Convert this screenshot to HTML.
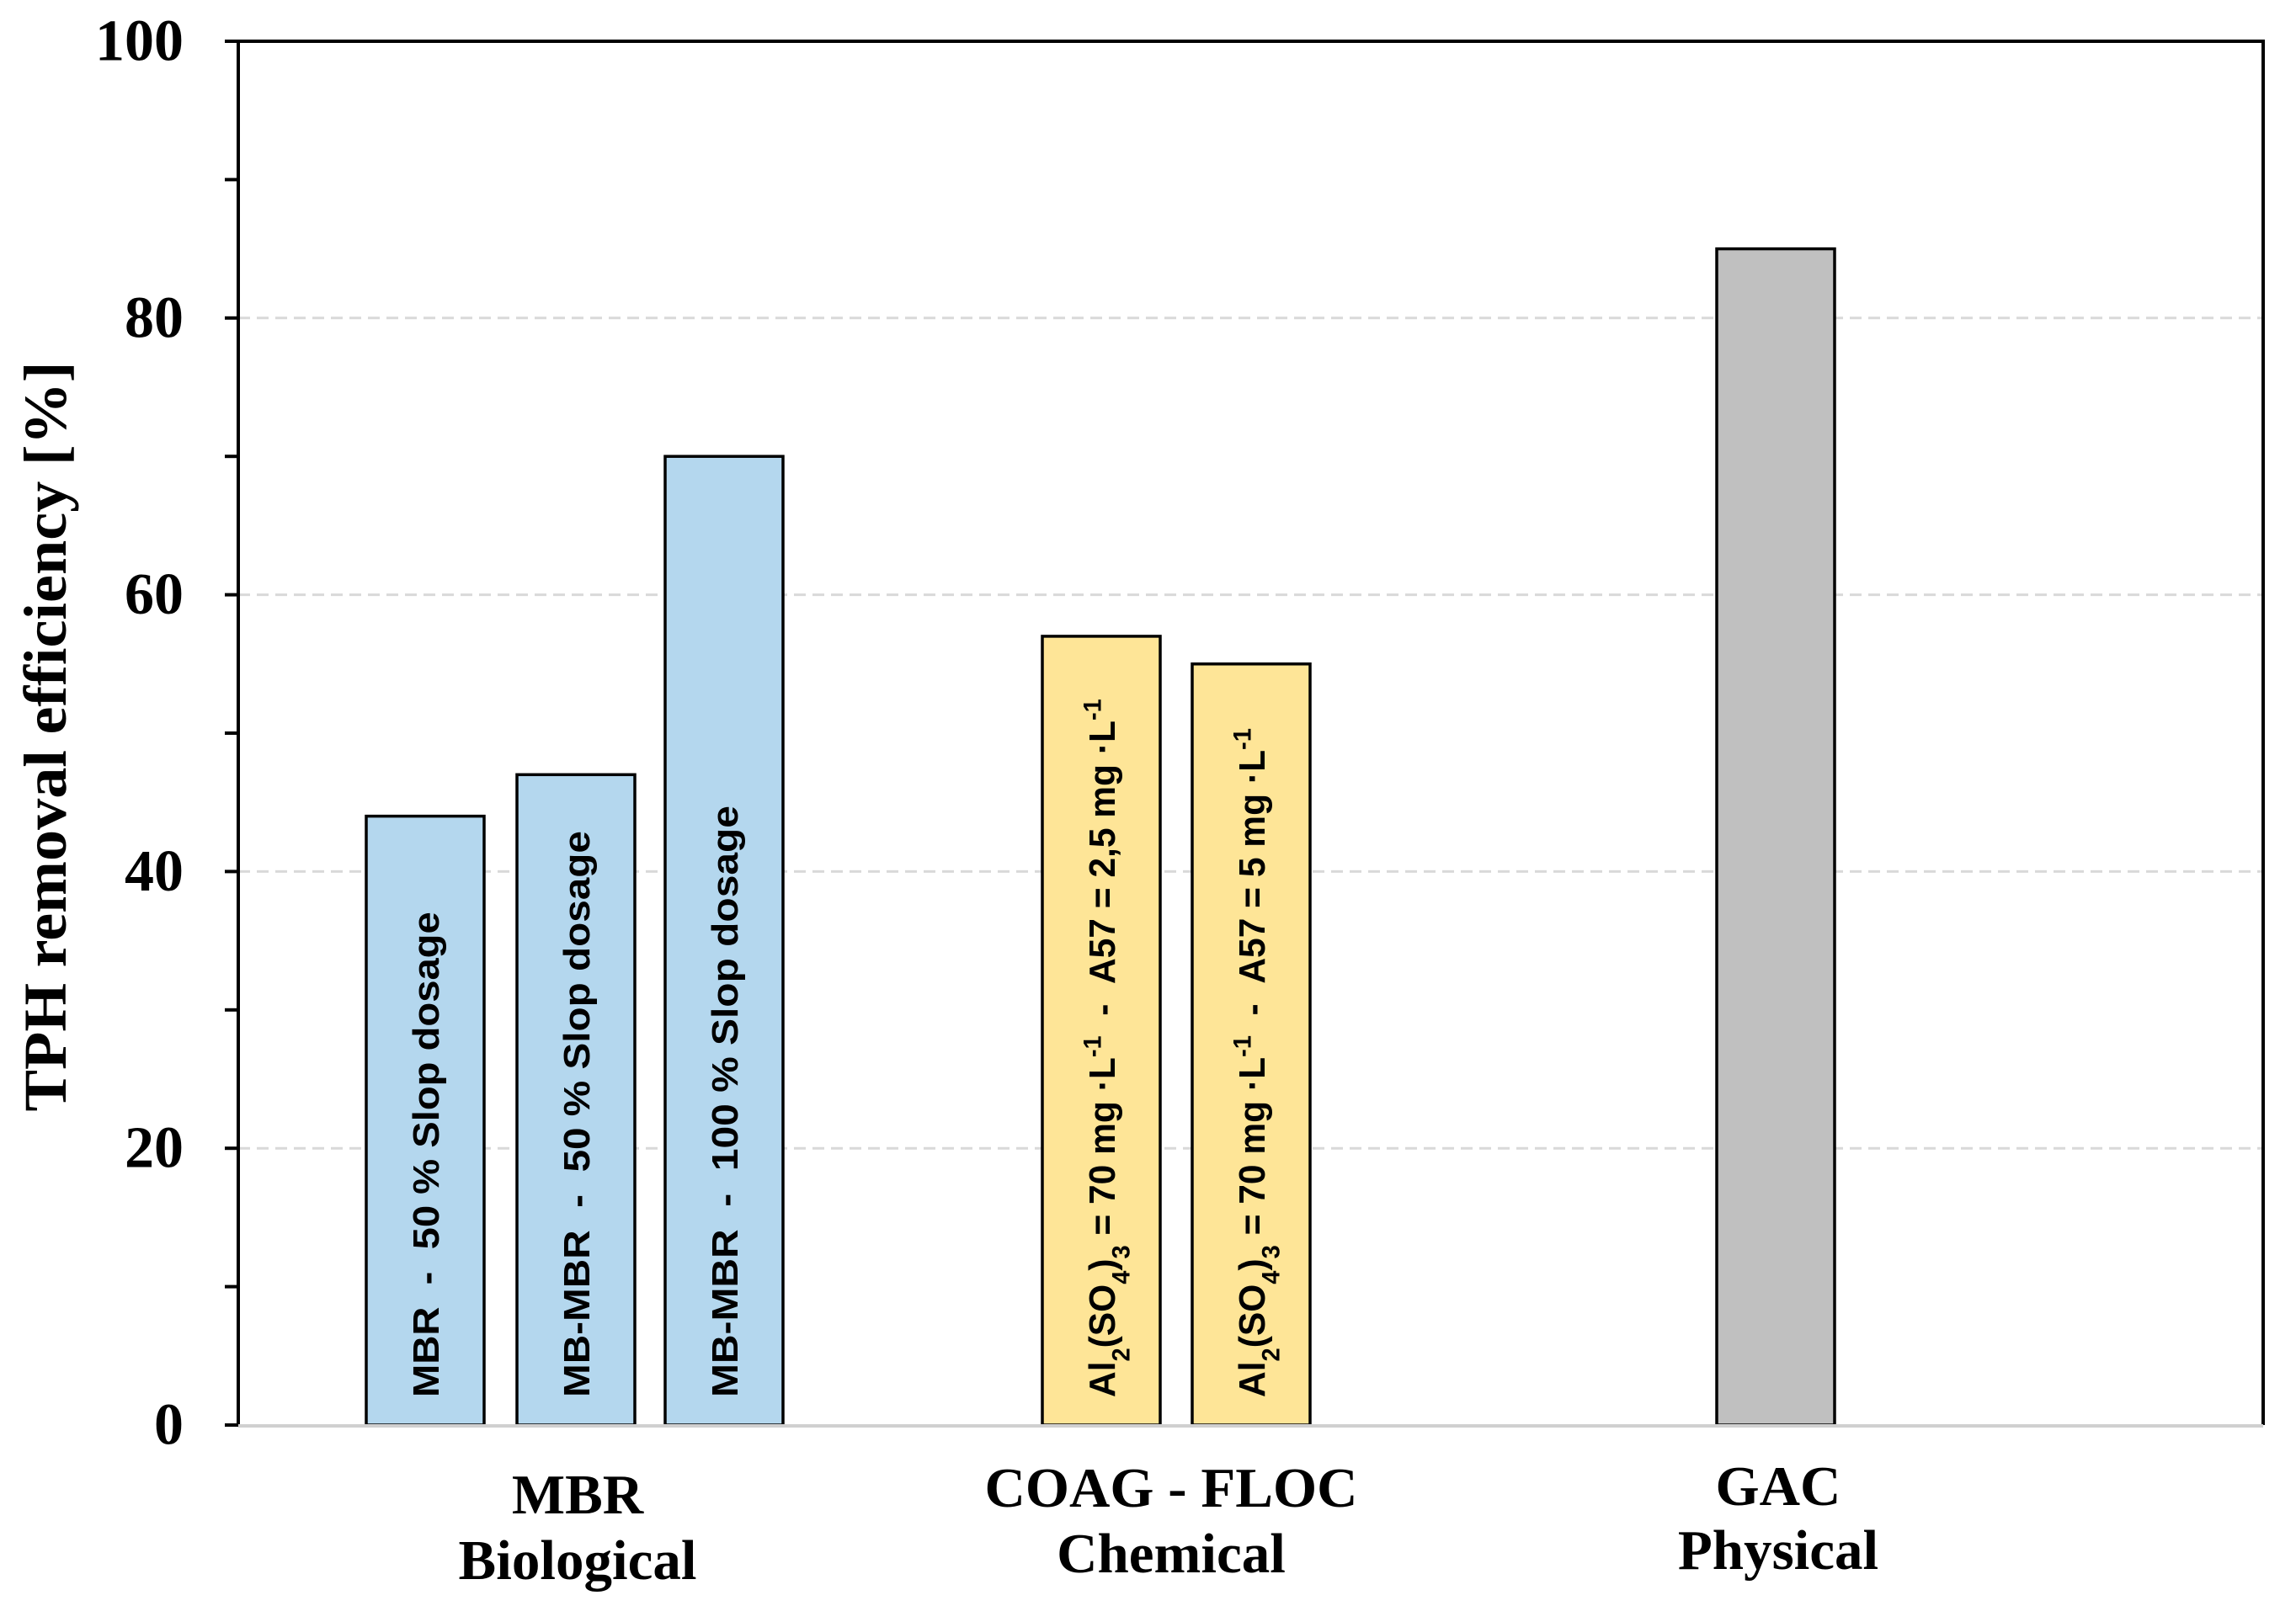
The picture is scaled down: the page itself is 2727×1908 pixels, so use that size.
<!DOCTYPE html>
<html><head><meta charset="utf-8"><style>
html,body{margin:0;padding:0;background:#fff;}
svg{display:block;}
</style></head><body>
<svg id="chart" width="2727" height="1908" viewBox="0 0 2727 1908" xmlns="http://www.w3.org/2000/svg">
<g id="grid"></g>
<g id="bars"></g>
<g id="axes"></g>
<g id="labels"></g>
</svg>
<script>
const barValues = [44, 47, 70, 57, 55, 85];
const barCenters = [505, 684, 860, 1308, 1486, 2109];
const barColors = ["#b4d7ee","#b4d7ee","#b4d7ee","#fee597","#fee597","#c0c0c0"];
const yTicks = [0, 20, 40, 60, 80, 100];
const yMinor = [10, 30, 50, 70, 90];
const groupNames = ["MBR", "COAG - FLOC", "GAC"];
const groupTypes = ["Biological", "Chemical", "Physical"];
const groupCenters = [686, 1391, 2112];

const NS = "http://www.w3.org/2000/svg";
const X0 = 283, X1 = 2688, Y0 = 1693, Y1 = 49;
function y(v){ return Y0 - (v/100)*(Y0-Y1); }
function mk(tag, attrs, parent){
  const e = document.createElementNS(NS, tag);
  for (const k in attrs) e.setAttribute(k, attrs[k]);
  parent.appendChild(e); return e;
}
const grid = document.getElementById('grid');
const barsG = document.getElementById('bars');
const axes = document.getElementById('axes');
const labels = document.getElementById('labels');

yTicks.forEach(t => {
  if (t > 0 && t < 100) {
    const l = mk('line', {x1:X0, x2:X1, y1:y(t), y2:y(t), stroke:'#d9d9d9', 'stroke-width':3, 'stroke-dasharray':'14 8'}, grid);
    
    
  }
  const tk = mk('line', {x1:267, x2:X0, y1:y(t), y2:y(t), stroke:'#000', 'stroke-width':4}, axes);
  
  
  const tl = mk('text', {x:218, y:y(t), 'text-anchor':'end', 'dominant-baseline':'central', 'font-family':'Liberation Serif, serif', 'font-weight':'bold', 'font-size':70}, labels);
  tl.textContent = t;
  
  
});
yMinor.forEach(t => {
  const tk = mk('line', {x1:267, x2:X0, y1:y(t), y2:y(t), stroke:'#000', 'stroke-width':4}, axes);
  
  
});

const bw = 140;
barValues.forEach((v, i) => {
  const r = mk('rect', {x:barCenters[i]-bw/2, y:y(v), width:bw, height:Y0-y(v), fill:barColors[i], stroke:'#000', 'stroke-width':3.5}, barsG);
  
  
});

const frame = mk('path', {d:`M${X0} ${Y0} L${X0} ${Y1} L${X1} ${Y1} L${X1} ${Y0}`, fill:'none', stroke:'#000', 'stroke-width':4}, axes);


const xaxis = mk('line', {x1:X0, x2:X1, y1:Y0+1, y2:Y0+1, stroke:'#d0d0d0', 'stroke-width':4}, axes);



const barTexts = [
  {html:'MBR&#160;&#160;-&#160;&#160;50 % Slop dosage', len:577},
  {html:'MB-MBR&#160;&#160;-&#160;&#160;50 % Slop dosage', len:673},
  {html:'MB-MBR&#160;&#160;-&#160;&#160;100 % Slop dosage', len:703},
  {html:'Al<tspan baseline-shift="sub" font-size="30">2</tspan>(SO<tspan baseline-shift="sub" font-size="30">4</tspan>)<tspan baseline-shift="sub" font-size="30">3</tspan> = 70 mg ·L<tspan baseline-shift="super" font-size="30">-1</tspan>&#160;&#160;-&#160;&#160;A57 = 2,5 mg ·L<tspan baseline-shift="super" font-size="30">-1</tspan>', len:830},
  {html:'Al<tspan baseline-shift="sub" font-size="30">2</tspan>(SO<tspan baseline-shift="sub" font-size="30">4</tspan>)<tspan baseline-shift="sub" font-size="30">3</tspan> = 70 mg ·L<tspan baseline-shift="super" font-size="30">-1</tspan>&#160;&#160;-&#160;&#160;A57 = 5 mg ·L<tspan baseline-shift="super" font-size="30">-1</tspan>', len:795}
];
barTexts.forEach((bt, i) => {
  const cx = barCenters[i], by = 1660;
  const t = mk('text', {x:0, y:0, transform:`translate(${cx+16},${by}) rotate(-90)`, 'font-family':'Liberation Sans, sans-serif', 'font-weight':'bold', 'font-size':44, fill:'#000'}, labels);
  t.innerHTML = bt.html;
  
  
  try {
    const w = t.getComputedTextLength();
    const s = bt.len / w;
    t.setAttribute('transform', `translate(${cx+16},${by}) rotate(-90) scale(${s},1)`);
  } catch(e) {}
});

const nameY = [1798, 1790, 1788];
const typeY = [1876, 1868, 1864];
groupNames.forEach((g, i) => {
  const t1 = mk('text', {x:groupCenters[i], y:nameY[i], 'text-anchor':'middle', 'font-family':'Liberation Serif, serif', 'font-weight':'bold', 'font-size':67}, labels);
  t1.textContent = g;
  
  
  const t2 = mk('text', {x:groupCenters[i], y:typeY[i], 'text-anchor':'middle', 'font-family':'Liberation Serif, serif', 'font-weight':'bold', 'font-size':67}, labels);
  t2.textContent = groupTypes[i];
  
  
});

const yt = mk('text', {x:0, y:0, transform:'translate(78,875) rotate(-90)', 'text-anchor':'middle', 'font-family':'Liberation Serif, serif', 'font-weight':'bold', 'font-size':72, textLength:891, lengthAdjust:'spacingAndGlyphs'}, labels);
yt.textContent = 'TPH removal efficiency [%]';


</script>
</body></html>
